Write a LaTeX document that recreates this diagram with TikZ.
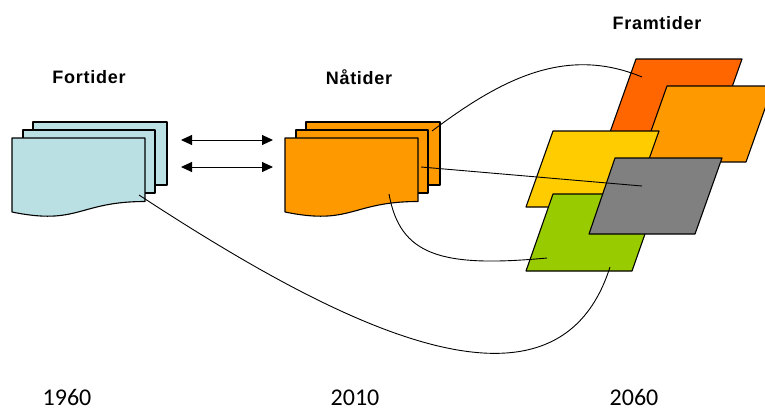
\documentclass[tikz,border=0pt]{standalone}
\usepackage{fontspec}
\usetikzlibrary{arrows.meta}

\newfontfamily\headfont[LetterSpace=4]{Liberation Sans}
\newfontfamily\yearfont{Carlito}

\definecolor{paleblue}{HTML}{BBE0E3}
\definecolor{amber}{HTML}{FF9900}
\definecolor{redorange}{HTML}{FF6600}
\definecolor{gold}{HTML}{FFCC00}
\definecolor{lime}{HTML}{99CC00}
\definecolor{slate}{HTML}{808080}

\tikzset{
  sheet/.style={draw, line width=1.1pt, line join=round},
  plane/.style={draw, line width=1.1pt, line join=round},
  link/.style={line width=0.9pt},
  swap/.style={line width=1pt, {Triangle[length=11pt,width=10pt]}-{Triangle[length=11pt,width=10pt]}},
  head/.style={font=\headfont\bfseries\fontsize{18}{21}\selectfont},
  year/.style={font=\yearfont\fontsize{24}{28}\selectfont, anchor=base, inner sep=0pt}
}

\begin{document}
\begin{tikzpicture} [x=1pt,y=-1pt]

\clip (0,0) rectangle (765,410);

%\draw [step=50, dotted] (0,0) grid (765,410);

% past: stack of pale sheets
\draw [sheet, fill=paleblue] (33,122) rectangle (167,185);
\draw [sheet, fill=paleblue] (23,130) rectangle (155,193);
\draw [sheet, fill=paleblue] (12,138) -- (145,138) -- (145,201.5)
  .. controls (78.5,201.5) and (78.5,225.7) .. (12,212) -- cycle;

% present: stack of orange sheets
\draw [sheet, fill=amber] (306,122) rectangle (440,185);
\draw [sheet, fill=amber] (296,130) rectangle (428,193);
\draw [sheet, fill=amber] (285,138) -- (418,138) -- (418,201.5)
  .. controls (351.5,201.5) and (351.5,225.7) .. (285,212) -- cycle;

% futures
\draw [plane, fill=redorange] (636,59) -- (742,59) -- (715,135) -- (609,135) -- cycle;
\draw [plane, fill=amber] (667,86) -- (773,86) -- (746,162) -- (640,162) -- cycle;
\draw [plane, fill=gold] (553,131) -- (659,131) -- (632,207) -- (526,207) -- cycle;
\draw [plane, fill=lime] (553,194) -- (659,194) -- (632,271) -- (526,271) -- cycle;
\draw [plane, fill=slate] (615,158) -- (722,158) -- (695,234) -- (589,234) -- cycle;

% ends of the links
\coordinate (pastout) at (139,195);
\coordinate (nowtop) at (432,131);
\coordinate (nowmid) at (421,167);
\coordinate (nowlow) at (389,194);
\coordinate (redin) at (642,77);
\coordinate (grayin) at (642,186);
\coordinate (limein) at (547,258);
\coordinate (limelow) at (610,267);
\coordinate (a1) at (181,140);
\coordinate (b1) at (273,140);
\coordinate (a2) at (181,167);
\coordinate (b2) at (273,167);

\draw [swap] (a1) -- (b1);
\draw [swap] (a2) -- (b2);

\draw [link] (nowtop) .. controls (500,80) and (565,45) .. (redin);
\draw [link] (nowmid) -- (grayin);
\draw [link] (nowlow) .. controls (400,255) and (440,268) .. (limein);
\draw [link] (pastout) .. controls (330,320) and (555,440) .. (limelow);

\node [head] (fortider) at (89,77) {Fortider};
\node [head] (natider) at (359,77) {Nåtider};
\node [head] (framtider) at (657,23) {Framtider};

\node [year] (y1960) at (67,405) {1960};
\node [year] (y2010) at (355,405) {2010};
\node [year] (y2060) at (634,405) {2060};

\end{tikzpicture}
\end{document}
